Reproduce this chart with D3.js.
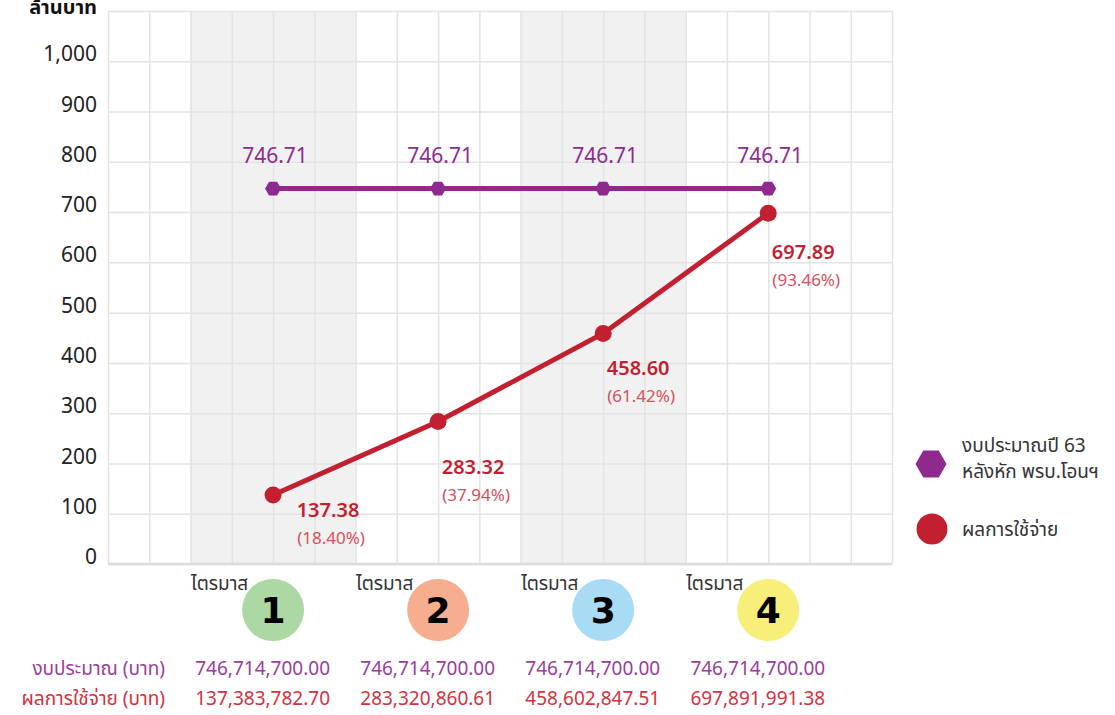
<!DOCTYPE html>
<html>
<head>
<meta charset="utf-8">
<script src="https://cdn.jsdelivr.net/npm/d3@7"></script>
<style>
  body { margin: 0; background: #fff; }
  svg text { font-family: Tahoma, "Noto Sans Thai", "Leelawadee UI", "Noto Sans", "DejaVu Sans", sans-serif; }
</style>
</head>
<body>
<div id="chart"></div>
<script>
// Values (million baht) per quarter
const quarters = ["1", "2", "3", "4"];
const budgetM = [746.71, 746.71, 746.71, 746.71];
const spentM = [137.38, 283.32, 458.60, 697.89];
const spentPct = ["18.40%", "37.94%", "61.42%", "93.46%"];
const budgetBaht = ["746,714,700.00", "746,714,700.00", "746,714,700.00", "746,714,700.00"];
const spentBaht = ["137,383,782.70", "283,320,860.61", "458,602,847.51", "697,891,991.38"];
const yTicks = [0, 100, 200, 300, 400, 500, 600, 700, 800, 900, 1000];

const W = 1115, H = 715;
const purple = "#8e2a8e", red = "#c21f30";
const badgeColors = ["#acd8a4", "#f6ae8e", "#a8dcf4", "#f7ef7a"];

const svg = d3.select("#chart").append("svg")
    .attr("width", W)
    .attr("height", H);

// Scales: 19 grid columns, quarters sit every 4 columns
const x = d3.scaleLinear().domain([0, 19]).range([108, 892]);
const y = d3.scaleLinear().domain([0, 1100]).range([564, 11]);
const qx = i => x((i + 1) * 4);

// Shaded bands behind quarter 1 and 3
svg.selectAll(".band")
    .data([0, 2])
    .enter()
    .append("rect")
    .attr("x", i => x((i + 1) * 4 - 2))
    .attr("y", y(1100))
    .attr("width", x(4) - x(0))
    .attr("height", y(0) - y(1100))
    .attr("fill", "#f1f1f1");

// Grid lines
svg.append("g")
    .attr("transform", `translate(0,${y(0)})`)
    .call(d3.axisBottom(x).tickValues(d3.range(0, 20)).tickSize(-(y(0) - y(1100))).tickFormat(""))
    .call(g => g.select(".domain").remove())
    .call(g => g.selectAll("line").attr("stroke", "#e3e3e3").attr("stroke-width", 1.5));

svg.append("g")
    .attr("transform", `translate(${x(0)},0)`)
    .call(d3.axisLeft(y).tickValues(d3.range(0, 1101, 100)).tickSize(-(x(19) - x(0))).tickFormat(""))
    .call(g => g.select(".domain").remove())
    .call(g => g.selectAll("line").attr("stroke", "#e3e3e3").attr("stroke-width", 1.5));

// baseline
svg.append("line")
    .attr("x1", x(0)).attr("x2", x(19))
    .attr("y1", y(0)).attr("y2", y(0))
    .attr("stroke", "#dcdcdc")
    .attr("stroke-width", 2.5);

// Y tick labels
svg.append("g")
    .attr("transform", "translate(97,0)")
    .call(d3.axisLeft(y).tickValues(yTicks).tickSize(0).tickPadding(0).tickFormat(d3.format(",")))
    .call(g => g.select(".domain").remove())
    .call(g => g.selectAll("text")
        .attr("dy", "-0.02em")
        .style("font-size", "21px")
        .attr("fill", "#222"));

svg.append("text")
    .attr("x", 97)
    .attr("y", 14)
    .attr("text-anchor", "end")
    .style("font-size", "20px")
    .style("font-weight", "bold")
    .attr("fill", "#111")
    .text("ล้านบาท");

// Lines
const line = d3.line().x((d, i) => qx(i)).y(d => y(d));

svg.append("path")
    .datum(budgetM)
    .attr("d", line)
    .attr("fill", "none")
    .attr("stroke", purple)
    .attr("stroke-width", 5);

svg.append("path")
    .datum(spentM)
    .attr("d", line)
    .attr("fill", "none")
    .attr("stroke", red)
    .attr("stroke-width", 5);

function hexPath(r) {
    const pts = d3.range(6).map(k => [r * Math.cos(k * Math.PI / 3), r * Math.sin(k * Math.PI / 3)]);
    return "M" + pts.map(p => p.join(",")).join("L") + "Z";
}

svg.selectAll(".hex")
    .data(budgetM)
    .enter()
    .append("path")
    .attr("d", hexPath(8))
    .attr("transform", (d, i) => `translate(${qx(i)},${y(d)})`)
    .attr("fill", purple);

svg.selectAll(".dot")
    .data(spentM)
    .enter()
    .append("circle")
    .attr("cx", (d, i) => qx(i))
    .attr("cy", d => y(d))
    .attr("r", 8.5)
    .attr("fill", red);

// Budget value labels
svg.selectAll(".blabel")
    .data(budgetM)
    .enter()
    .append("text")
    .attr("x", (d, i) => qx(i) + 2)
    .attr("y", d => y(d) - 26)
    .attr("text-anchor", "middle")
    .style("font-size", "21px")
    .attr("fill", purple)
    .text(d => d.toFixed(2));

// Spending value labels
const labelShift = [55, 35, 35, 35];
const labelDrop = [22, 52, 42, 46];
svg.selectAll(".slabel")
    .data(spentM)
    .enter()
    .append("text")
    .attr("x", (d, i) => qx(i) + labelShift[i])
    .attr("y", (d, i) => y(d) + labelDrop[i])
    .attr("text-anchor", "middle")
    .style("font-size", "20px")
    .style("font-weight", "600")
    .attr("fill", red)
    .text(d => d.toFixed(2));

svg.selectAll(".plabel")
    .data(spentPct)
    .enter()
    .append("text")
    .attr("x", (d, i) => qx(i) + labelShift[i] + 3)
    .attr("y", (d, i) => y(spentM[i]) + labelDrop[i] + 27)
    .attr("text-anchor", "middle")
    .style("font-size", "17px")
    .attr("fill", "#d4505c")
    .text(d => `(${d})`);

// Quarter badges
const qg = svg.selectAll(".quarter")
    .data(quarters)
    .enter()
    .append("g")
    .attr("transform", (d, i) => `translate(${qx(i)},0)`);

qg.append("circle")
    .attr("cx", 0)
    .attr("cy", 610)
    .attr("r", 31)
    .attr("fill", (d, i) => badgeColors[i]);

qg.append("text")
    .attr("x", -82)
    .attr("y", 590)
    .style("font-size", "19px")
    .attr("fill", "#333")
    .text("ไตรมาส");

qg.append("text")
    .attr("x", 0)
    .attr("y", 623)
    .attr("text-anchor", "middle")
    .style("font-size", "36px")
    .style("font-weight", "900")
    .style("font-family", "'DejaVu Sans', sans-serif")
    .attr("fill", "#000")
    .text(d => d);

// Table below
const rows = [
    { label: "งบประมาณ (บาท)", values: budgetBaht, color: "#9b3d9b", y: 675 },
    { label: "ผลการใช้จ่าย (บาท)", values: spentBaht, color: "#d2323f", y: 705 }
];

rows.forEach(r => {
    svg.append("text")
        .attr("x", 165)
        .attr("y", r.y)
        .attr("text-anchor", "end")
        .style("font-size", "19px")
        .attr("fill", r.color)
        .text(r.label);

    svg.selectAll(null)
        .data(r.values)
        .enter()
        .append("text")
        .attr("x", (d, i) => qx(i) + 57)
        .attr("y", r.y)
        .attr("text-anchor", "end")
        .style("font-size", "19px")
        .attr("fill", r.color)
        .text(d => d);
});

// Legend
const legend = svg.append("g");

legend.append("path")
    .attr("d", hexPath(15.5))
    .attr("transform", "translate(931,464)")
    .attr("fill", purple);

legend.append("text")
    .attr("x", 962)
    .attr("y", 452)
    .style("font-size", "19px")
    .attr("fill", "#333")
    .text("งบประมาณปี 63");

legend.append("text")
    .attr("x", 962)
    .attr("y", 478)
    .style("font-size", "19px")
    .attr("fill", "#333")
    .text("หลังหัก พรบ.โอนฯ");

legend.append("circle")
    .attr("cx", 932)
    .attr("cy", 529)
    .attr("r", 15.5)
    .attr("fill", red);

legend.append("text")
    .attr("x", 962)
    .attr("y", 536)
    .style("font-size", "19px")
    .attr("fill", "#333")
    .text("ผลการใช้จ่าย");
</script>
</body>
</html>
